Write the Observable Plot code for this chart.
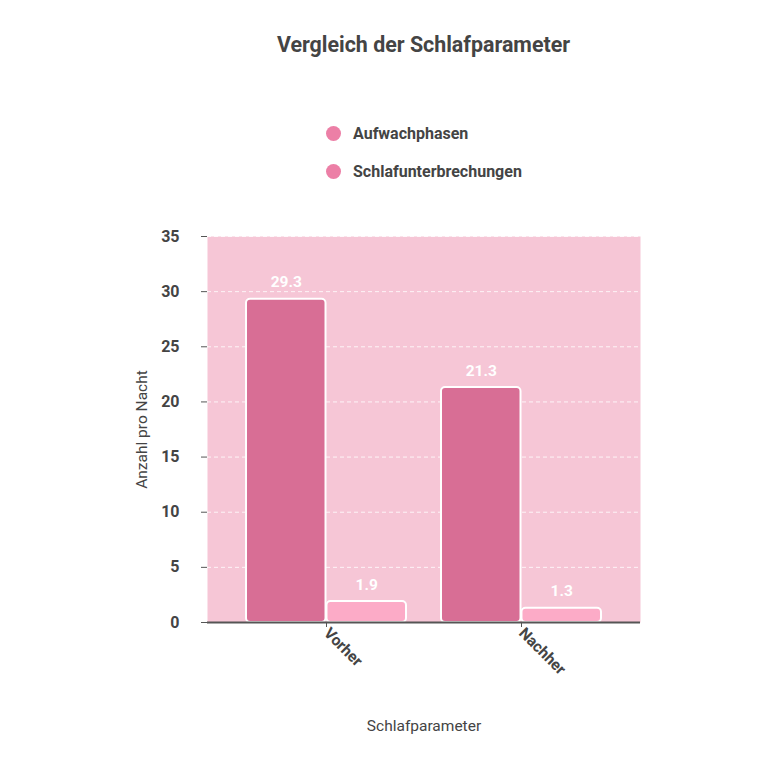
<!DOCTYPE html>
<html>
<head>
<meta charset="utf-8">
<script src="https://cdn.jsdelivr.net/npm/d3@7"></script>
<script src="https://cdn.jsdelivr.net/npm/@observablehq/plot@0.6"></script>
<style>
  html, body { margin: 0; padding: 0; background: #fff; }
  body { font-family: Roboto, "Noto Sans", sans-serif; }
  #wrap { position: relative; width: 768px; height: 768px; overflow: hidden; }
  #title { position: absolute; top: 32px; left: 207px; width: 433px; text-align: center;
           font-size: 21.4px; font-weight: 700; color: #444; }
  #legend { position: absolute; top: 122px; left: 326px; }
  .li { display: flex; align-items: center; height: 22px; margin-bottom: 16px;
        font-size: 16px; font-weight: 700; color: #444; }
  .dot { width: 15px; height: 15px; border-radius: 50%; margin-right: 12px; }
  #chart { position: absolute; top: 0; left: 0; }
  #chart svg { font-family: Roboto, "Noto Sans", sans-serif; }
</style>
</head>
<body>
<div id="wrap">
  <div id="title">Vergleich der Schlafparameter</div>
  <div id="legend"></div>
  <div id="chart"></div>
</div>
<script>
const groups = ["Vorher", "Nachher"];
const seriesNames = ["Aufwachphasen", "Schlafunterbrechungen"];
const aufwachphasen = [29.3, 21.3];
const schlafunterbrechungen = [1.9, 1.3];
const yTicks = [0, 5, 10, 15, 20, 25, 30, 35];
const barColors = ["#d86e95", "#fcabc7"];
const legendColor = "#ec7fa6";

const dataA = groups.map((g, i) => ({group: g, value: aufwachphasen[i]}));
const dataB = groups.map((g, i) => ({group: g, value: schlafunterbrechungen[i]}));

const legend = document.getElementById("legend");
seriesNames.forEach(n => {
  const d = document.createElement("div");
  d.className = "li";
  d.innerHTML = `<span class="dot" style="background:${legendColor}"></span>${n}`;
  legend.appendChild(d);
});

const W = 768, mL = 207, mR = 128;
const pInner = 0.1786, pOuter = 0.194;
const step = (W - mL - mR) / (groups.length - pInner + 2 * pOuter);
const bw = step * (1 - pInner);
const half = bw / 2;

const chart = Plot.plot({
  width: 768,
  height: 768,
  marginTop: 236,
  marginBottom: 146,
  marginLeft: 207,
  marginRight: 128,
  style: {background: "transparent", color: "#555", fontSize: "14px"},
  x: {type: "band", domain: groups, paddingInner: pInner, paddingOuter: pOuter,
      tickRotate: 45, tickSize: 5, tickPadding: 3, label: "Schlafparameter", labelAnchor: "center", labelOffset: 108, labelArrow: false},
  y: {domain: [0, 35], ticks: yTicks, tickSize: 6, tickPadding: 22,
      label: "Anzahl pro Nacht", labelAnchor: "center", labelOffset: 72, labelArrow: false},
  marks: [
    Plot.frame({fill: "#f6c6d6", stroke: "none"}),
    Plot.ruleY(yTicks.slice(1), {stroke: "white", strokeOpacity: 0.8, strokeDasharray: "4,3"}),
    Plot.barY(dataA, {x: "group", y: "value", fill: barColors[0], stroke: "white", strokeWidth: 2, rx: 4, insetRight: half}),
    Plot.barY(dataB, {x: "group", y: "value", fill: barColors[1], stroke: "white", strokeWidth: 2, rx: 4, insetLeft: half}),
    Plot.ruleY([0], {stroke: "#555", strokeWidth: 2}),
    Plot.text(dataA, {x: "group", y: "value", text: d => d.value.toFixed(1), dx: -half / 2, dy: -17,
      fill: "white", fontWeight: 700, fontSize: 15.5}),
    Plot.text(dataB, {x: "group", y: "value", text: d => d.value.toFixed(1), dx: half / 2, dy: -17,
      fill: "white", fontWeight: 700, fontSize: 15.5})
  ]
});
document.getElementById("chart").appendChild(chart);

chart.querySelectorAll("g[aria-label='x-axis tick label'] text").forEach(t => {
  t.style.fontWeight = "700"; t.style.fontSize = "15.5px"; t.style.fill = "#444";
});
chart.querySelectorAll("g[aria-label='y-axis tick label'] text").forEach(t => {
  t.style.fontWeight = "700"; t.style.fontSize = "16px"; t.style.fill = "#444";
});
chart.querySelectorAll("g[aria-label='x-axis label'] text, g[aria-label='y-axis label'] text").forEach(t => {
  t.style.fontSize = "15.5px"; t.style.fill = "#444";
});
</script>
</body>
</html>
